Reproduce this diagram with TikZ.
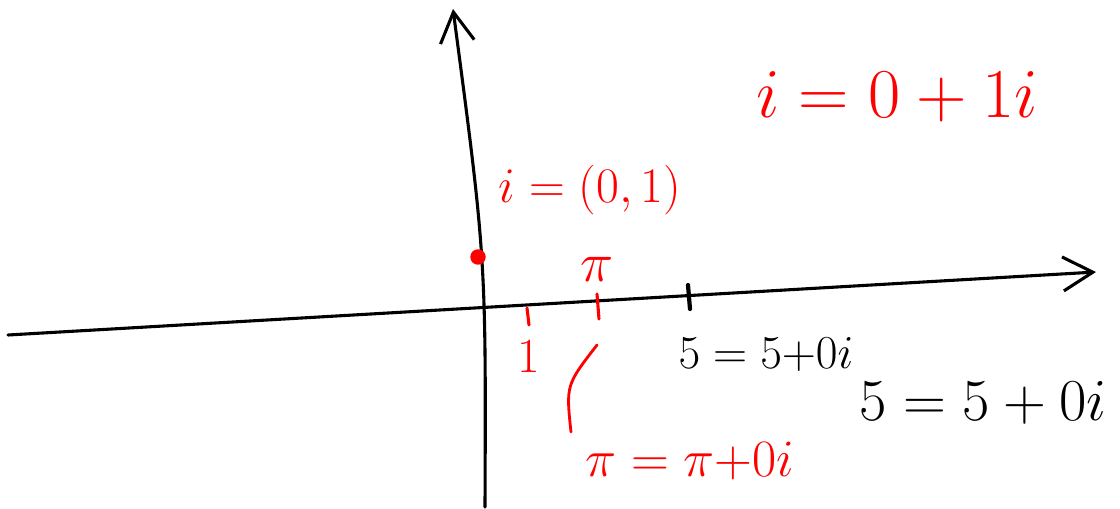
\documentclass[tikz,border=0pt]{standalone}
\usepackage{graphicx}
\usepackage{tikz}
\usetikzlibrary{arrows.meta, positioning}
\definecolor{inkRed}{HTML}{FF0000}
\definecolor{inkBlack}{HTML}{000000}
\newcommand{\inktext}[2]{\scalebox{#1}{\Huge$#2$}}
\tikzset{
  axisLine/.style={-{Straight Barb[length=7.5mm, width=8.5mm]}, inkBlack, line width=2.2pt, line cap=round},
  tickR/.style={inkRed, line width=2.2pt, line cap=round},
  tickB/.style={inkBlack, line width=3pt, line cap=round},
  labelR/.style={text=inkRed, inner sep=0pt},
  labelB/.style={text=inkBlack, inner sep=0pt},
}
\begin{document}
\begin{tikzpicture}[x=0.025cm, y=-0.025cm]
    \useasboundingbox (0,0) rectangle (1120,508);
    % axes
    \coordinate (xs) at (8,335);   \coordinate (xe) at (1096,272);
    \coordinate (ys) at (485,507); \coordinate (ye) at (453,9);
    \draw[axisLine] (xs) -- (xe);
    \draw[axisLine] (ys) .. controls (486,258) .. (ye);

    % ticks on the real axis
    \coordinate (t1a) at (527,308); \coordinate (t1b) at (529,325);
    \coordinate (tpa) at (597,294); \coordinate (tpb) at (599,319);
    \coordinate (t5a) at (688,285); \coordinate (t5b) at (690,309);
    \draw[tickR] (t1a) -- (t1b); \draw[tickR] (tpa) -- (tpb);
    \draw[tickB] (t5a) -- (t5b);

    % the point i
    \node[circle, fill=inkRed, inner sep=0pt, minimum size=11pt] (pi) at (478,257) {};
    \node[labelR] (lbli) at (590,190) {\inktext{1.42}{i = (0,1)}};

    % labels
    \node[labelR, below=0.4cm of t1b] (one) {\inktext{1.4}{1}};
    \node[labelR, above=0.3cm of tpa] (piup) {\inktext{1.6}{\pi}};
    \node[labelB] (five) at (766,355) {\inktext{1.35}{5 = 5{+}0i}};
    \node[labelB] (fivebig) at (983,403) {\inktext{1.7}{5 = 5 + 0i}};
    \node[labelR] (iform) at (897,97) {\inktext{2.0}{i = 0 + 1i}};
    \node[labelR] (pilbl) at (690,461) {\inktext{1.5}{\pi = \pi{+}0i}};

    % pointer from the pi tick to its label
    \coordinate (pt) at (597,345); \coordinate (pb) at (571,432);
    \draw[tickR, line width=2pt] (pt) .. controls (566,385) .. (pb);
  \end{tikzpicture}
\end{document}
